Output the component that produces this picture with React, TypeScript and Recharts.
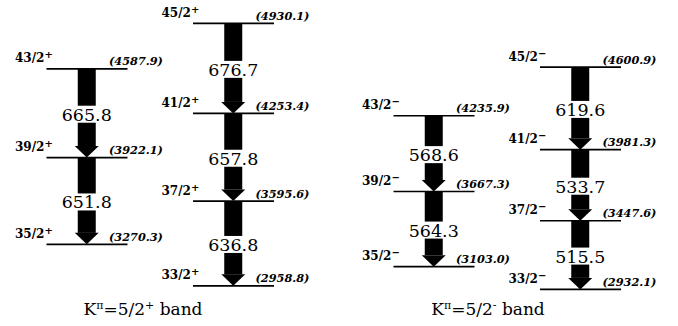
import { ComposedChart, Bar, Scatter, XAxis, YAxis } from 'recharts'

document.body.style.margin = '0'

// column positions on the x axis (same units as the 678px wide picture)
const COLUMNS = [87, 233.5, 434, 580.5]

// levels per column: spin, parity, excitation energy (keV)
const SPINS_1 = ['43/2', '39/2', '35/2']
const ENERGIES_1 = [4587.9, 3922.1, 3270.3]
const SPINS_2 = ['45/2', '41/2', '37/2', '33/2']
const ENERGIES_2 = [4930.1, 4253.4, 3595.6, 2958.8]
const SPINS_3 = ['43/2', '39/2', '35/2']
const ENERGIES_3 = [4235.9, 3667.3, 3103.0]
const SPINS_4 = ['45/2', '41/2', '37/2', '33/2']
const ENERGIES_4 = [4600.9, 3981.3, 3447.6, 2932.1]
const PARITIES = ['+', '+', '\u2212', '\u2212']

// gamma-ray energies between consecutive levels of each column
const GAMMAS_1 = ['665.8', '651.8']
const GAMMAS_2 = ['676.7', '657.8', '636.8']
const GAMMAS_3 = ['568.6', '564.3']
const GAMMAS_4 = ['619.6', '533.7', '515.5']

const SPINS = [SPINS_1, SPINS_2, SPINS_3, SPINS_4]
const ENERGIES = [ENERGIES_1, ENERGIES_2, ENERGIES_3, ENERGIES_4]
const GAMMAS = [GAMMAS_1, GAMMAS_2, GAMMAS_3, GAMMAS_4]

const levels = ENERGIES.flatMap((col, c) =>
  col.map((e, i) => ({ x: COLUMNS[c], y: e, spin: SPINS[c][i], parity: PARITIES[c], energy: e.toFixed(1) }))
)

const transitions = GAMMAS.flatMap((col, c) =>
  col.map((g, i) => ({ x: COLUMNS[c], range: [ENERGIES[c][i + 1], ENERGIES[c][i]], label: g }))
)

const SERIF = 'DejaVu Serif'

function LevelShape(props: any) {
  const { cx, cy, payload } = props
  return (
    <g>
      <line x1={cx - 40.5} x2={cx + 40.5} y1={cy} y2={cy} stroke="#000" strokeWidth={1.7} />
      <text x={cx - 72} y={cy - 6.5} fontFamily={SERIF} fontSize={12} fontWeight={600} fill="#000">
        {payload.spin}
        <tspan fontSize={10} dy={-4}>{payload.parity}</tspan>
      </text>
      <text x={cx + 22} y={cy - 3.5} fontFamily={SERIF} fontSize={11.3} fontStyle="italic" fontWeight={600} fill="#000">
        ({payload.energy})
      </text>
    </g>
  )
}

function ArrowShape(props: any) {
  const { x, y, width, height, payload } = props
  const head = 11.5
  const cx = x + width / 2
  const midY = y + height / 2 + 1
  return (
    <g>
      <rect x={x} y={y} width={width} height={height - head} fill="#000" />
      <polygon
        points={`${x - 3},${y + height - head} ${x + width + 3},${y + height - head} ${cx},${y + height}`}
        fill="#000"
      />
      <rect x={x - 4} y={midY - 8.5} width={width + 8} height={17} fill="#fff" />
      <text x={cx} y={midY + 6.5} textAnchor="middle" fontFamily={SERIF} fontSize={17.5} fill="#000">
        {payload.label}
      </text>
    </g>
  )
}

function BandTitle({ x, parity }: { x: number; parity: string }) {
  return (
    <text x={x} y={315} textAnchor="middle" fontFamily={SERIF} fontSize={17} fill="#000">
      K<tspan fontSize={11} dy={-6}>π</tspan>
      <tspan dy={6}>=5/2</tspan>
      <tspan fontSize={11} dy={-6}>{parity}</tspan>
      <tspan dy={6}> band</tspan>
    </text>
  )
}

export default function App() {
  return (
    <ComposedChart width={678} height={326} data={transitions} margin={{ top: 14, right: 0, bottom: 19, left: 0 }}>
      <XAxis type="number" dataKey="x" domain={[0, 678]} hide />
      <YAxis type="number" domain={[2800, 5000]} hide />
      <Bar dataKey="range" barSize={18} shape={ArrowShape} isAnimationActive={false} />
      <Scatter data={levels} dataKey="y" shape={LevelShape} isAnimationActive={false} />
      <BandTitle x={143} parity="+" />
      <BandTitle x={488} parity="-" />
    </ComposedChart>
  )
}
